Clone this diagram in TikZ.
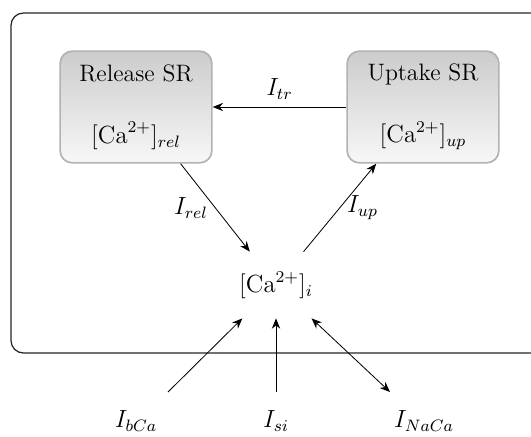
\documentclass[tikz,border=0pt]{standalone}
\usepackage{amsmath}
\usetikzlibrary{arrows.meta}

\tikzset{
    every node/.style={
        font=\fontsize{11.5pt}{14pt}\selectfont
    },
    store/.style={
        draw=black!30,
        line width=0.8pt,
        rounded corners=6pt,
        top color=black!20,
        bottom color=black!3,
        minimum width=2.58cm,
        minimum height=1.9cm,
        align=center
    },
    pool/.style={
        minimum height=1.12cm,
        minimum width=1.3cm
    },
    flux/.style={
        thin,
        -{Stealth[length=5pt,width=4pt]}
    }
}

\begin{document}
\begin{tikzpicture}[
    x=0.017cm,
    y=-0.017cm
]
    \path[use as bounding box] (0,0) rectangle (531,436);
    \clip (0,0) rectangle (531,436);
    \draw[black!85, line width=0.6pt, rounded corners=6pt] (11,13) rectangle (570,353);
    \begin{scope}
        \node[store] (rel) at (136,107) {Release SR\\[16pt]$[\mathrm{Ca}^{2+}]_{rel}$};
        \node[store] (up) at (423,107) {Uptake SR\\[16pt]$[\mathrm{Ca}^{2+}]_{up}$};
        \node[pool] (ca) at (276,285) {$[\mathrm{Ca}^{2+}]_i$};
        \draw[flux] (up) -- node[above] {$I_{tr}$} (rel);
        \draw[flux] (rel) -- node[left] {$I_{rel}$} (ca);
        \draw[flux] (ca) -- node[right] {$I_{up}$} (up);
    \end{scope}
    \begin{scope}
        \coordinate (bCa) at (168,392);
        \coordinate (si) at (276,392);
        \coordinate (NaCa) at (390,392);
        \draw[flux] (bCa) -- (ca);
        \draw[flux] (si) -- (ca);
        \draw[flux, {Stealth[length=5pt,width=4pt]}-{Stealth[length=5pt,width=4pt]}] (NaCa) -- (ca);
        \node (lbCa) at (136,421) {$I_{bCa}$};
        \node (lsi) at (276,421) {$I_{si}$};
        \node (lNaCa) at (424,421) {$I_{NaCa}$};
    \end{scope}
\end{tikzpicture}
\end{document}
